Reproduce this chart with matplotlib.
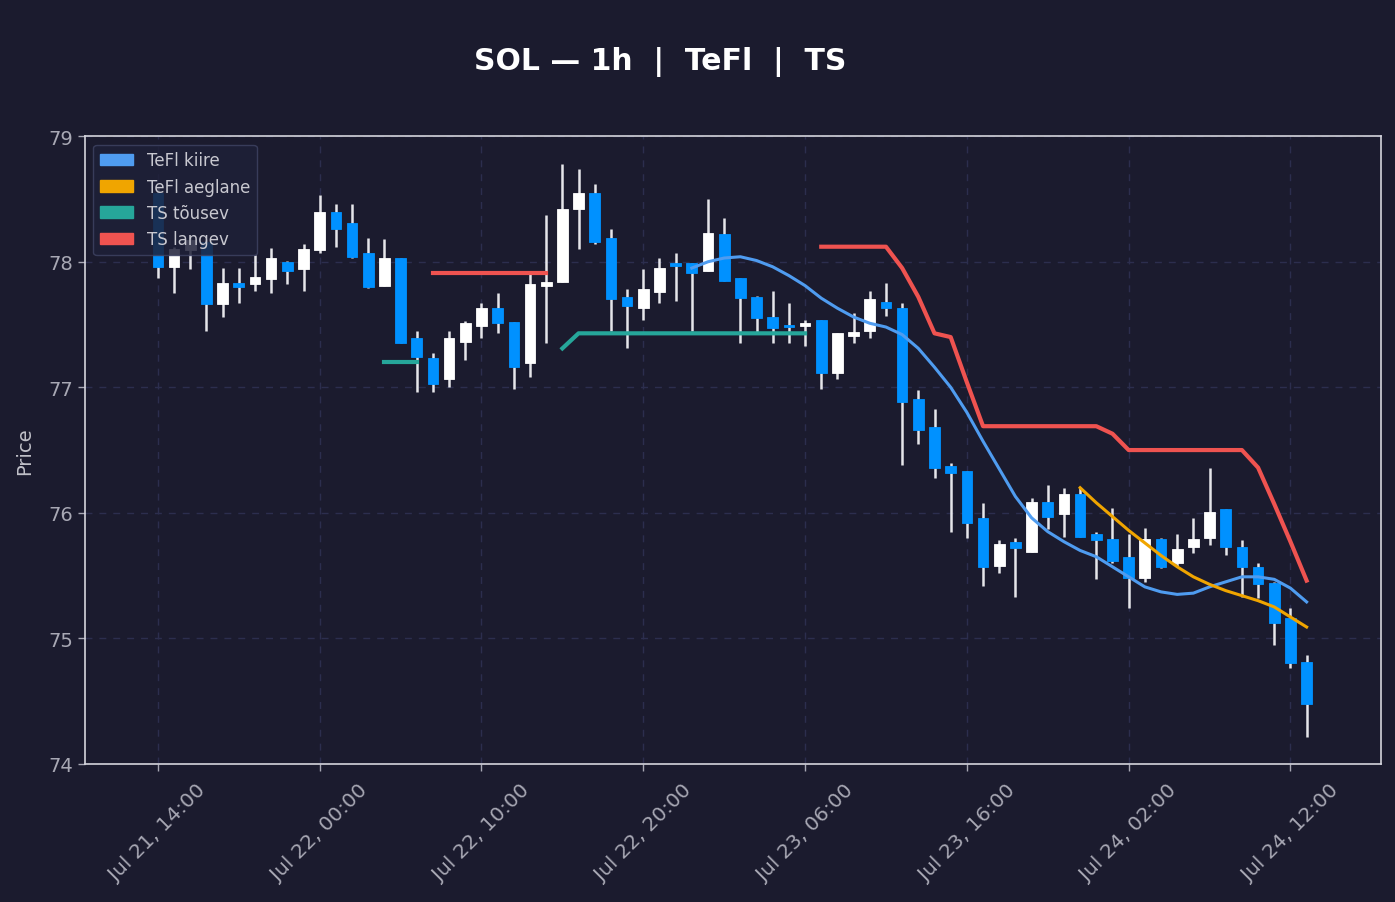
import numpy as np
import pandas as pd
import matplotlib
matplotlib.use("Agg")
import matplotlib.pyplot as plt
import matplotlib.dates as mdates
from matplotlib.patches import Patch

# hourly candles, Jul 21 14:00 -> Jul 24 13:00
times = pd.date_range("2024-07-21 14:00", periods=72, freq="h")

opens = [78.55, 77.96, 78.09, 78.16, 77.66, 77.83, 77.82, 77.86, 78.00, 77.94,
         78.09, 78.40, 78.31, 78.07, 77.81, 78.03, 77.39, 77.23, 77.07, 77.36,
         77.49, 77.63, 77.52, 77.19, 77.81, 77.84, 78.42, 78.55, 78.19, 77.72,
         77.63, 77.76, 77.99, 77.99, 77.93, 78.22, 77.87, 77.72, 77.56, 77.50,
         77.49, 77.54, 77.11, 77.41, 77.45, 77.68, 77.63, 76.91, 76.68, 76.37,
         76.33, 75.96, 75.58, 75.77, 75.69, 76.09, 75.99, 76.15, 75.83, 75.79,
         75.65, 75.48, 75.79, 75.60, 75.73, 75.80, 76.03, 75.73, 75.57, 75.44,
         75.16, 74.81]
closes = [77.96, 78.10, 78.17, 77.66, 77.83, 77.80, 77.88, 78.03, 77.93, 78.10,
          78.40, 78.26, 78.04, 77.80, 78.03, 77.35, 77.24, 77.03, 77.39, 77.51,
          77.63, 77.51, 77.16, 77.82, 77.84, 78.42, 78.55, 78.16, 77.70, 77.65,
          77.78, 77.95, 77.97, 77.91, 78.23, 77.85, 77.71, 77.55, 77.47, 77.48,
          77.51, 77.11, 77.43, 77.44, 77.70, 77.63, 76.88, 76.66, 76.36, 76.32,
          75.92, 75.57, 75.75, 75.72, 76.09, 75.97, 76.15, 75.81, 75.78, 75.62,
          75.48, 75.79, 75.57, 75.71, 75.79, 76.01, 75.73, 75.57, 75.43, 75.12,
          74.80, 74.48]
highs = [78.60, 78.12, 78.20, 78.18, 77.95, 77.95, 78.05, 78.11, 78.01, 78.14,
         78.53, 78.46, 78.46, 78.19, 78.18, 78.03, 77.45, 77.27, 77.45, 77.53,
         77.67, 77.75, 77.52, 77.90, 78.37, 78.78, 78.74, 78.62, 78.26, 77.78,
         77.94, 78.03, 78.07, 77.99, 78.50, 78.35, 77.87, 77.73, 77.77, 77.67,
         77.54, 77.54, 77.43, 77.59, 77.77, 77.83, 77.67, 76.98, 76.83, 76.40,
         76.33, 76.08, 75.78, 75.80, 76.12, 76.22, 76.20, 76.20, 75.85, 76.04,
         75.83, 75.88, 75.80, 75.83, 75.96, 76.36, 76.03, 75.78, 75.60, 75.45,
         75.24, 74.87]
lows = [77.87, 77.75, 77.94, 77.45, 77.56, 77.67, 77.77, 77.75, 77.82, 77.77,
        78.07, 78.12, 78.03, 77.79, 77.81, 77.35, 76.96, 76.96, 77.00, 77.22,
        77.39, 77.43, 76.99, 77.08, 77.35, 77.84, 78.10, 78.14, 77.45, 77.31,
        77.54, 77.67, 77.69, 77.45, 77.93, 77.85, 77.35, 77.44, 77.35, 77.35,
        77.33, 76.99, 77.07, 77.35, 77.39, 77.57, 76.38, 76.55, 76.28, 75.85,
        75.80, 75.42, 75.52, 75.33, 75.69, 75.87, 75.81, 75.81, 75.47, 75.60,
        75.24, 75.45, 75.56, 75.57, 75.68, 75.74, 75.66, 75.33, 75.32, 74.95,
        74.76, 74.21]

# TeFl kiire from candle 33, TeFl aeglane from candle 57
tefl_fast = [77.95, 78.00, 78.03, 78.04, 78.01, 77.96, 77.89, 77.81, 77.71, 77.63,
             77.56, 77.51, 77.48, 77.42, 77.31, 77.16, 77.00, 76.80, 76.57, 76.35,
             76.13, 75.96, 75.85, 75.77, 75.70, 75.65, 75.57, 75.49, 75.41, 75.37,
             75.35, 75.36, 75.41, 75.45, 75.49, 75.49, 75.47, 75.40, 75.29]
tefl_slow = [76.20, 76.08, 75.97, 75.86, 75.76, 75.66, 75.57, 75.49, 75.43, 75.38,
             75.34, 75.30, 75.25, 75.17, 75.09]

# trailing stop segments: (start candle, values)
ts_up = [(14, [77.20, 77.20, 77.20]),
         (25, [77.31] + [77.43] * 15)]
ts_down = [(17, [77.91] * 8),
           (41, [78.12, 78.12, 78.12, 78.12, 78.12, 77.95, 77.72, 77.43, 77.40, 77.04,
                 76.69, 76.69, 76.69, 76.69, 76.69, 76.69, 76.69, 76.69, 76.63, 76.50,
                 76.50, 76.50, 76.50, 76.50, 76.50, 76.50, 76.50, 76.36, 76.07, 75.77,
                 75.46])]

BG = "#1b1b2e"
UP = "#ffffff"
DOWN = "#0091ff"
C_FAST = "#4f9cf0"
C_SLOW = "#f0a500"
C_UP = "#26a69a"
C_DOWN = "#ef5350"

fig = plt.figure(figsize=(13.95, 9.03), dpi=100, facecolor=BG)
ax = fig.add_axes([0.061, 0.153, 0.929, 0.695], facecolor=BG)

x = mdates.date2num(times.to_pydatetime())
hour = 1 / 24
o = np.array(opens)
c = np.array(closes)
up = c >= o
cols = np.where(up, UP, DOWN)

ax.vlines(x, lows, highs, color="#e6e6ea", linewidth=1.8, zorder=2)
ax.bar(x, np.maximum(np.abs(c - o), 0.02), bottom=np.minimum(o, c),
       width=0.66 * hour, color=cols, edgecolor=cols, linewidth=0.6, zorder=3)

ax.plot(x[33:33 + len(tefl_fast)], tefl_fast, color=C_FAST, lw=2.2, zorder=4)
ax.plot(x[57:57 + len(tefl_slow)], tefl_slow, color=C_SLOW, lw=2.2, zorder=4)
for s, vals in ts_up:
    ax.plot(x[s:s + len(vals)], vals, color=C_UP, lw=3, zorder=4)
for s, vals in ts_down:
    ax.plot(x[s:s + len(vals)], vals, color=C_DOWN, lw=3, zorder=4)

ax.set_ylim(74, 79)
ax.set_xlim(x[0] - 4.5 * hour, x[-1] + 4.6 * hour)
ax.set_yticks([74, 75, 76, 77, 78, 79])
ax.xaxis.set_major_locator(plt.FixedLocator(x[::10]))
ax.xaxis.set_major_formatter(mdates.DateFormatter("%b %d, %H:%M"))
plt.setp(ax.get_xticklabels(), rotation=45)

ax.grid(True, color="#2c2e4e", linestyle=(0, (5, 5)), linewidth=1)
ax.set_axisbelow(True)
for sp in ax.spines.values():
    sp.set_color("#d4d4dc")
    sp.set_linewidth(1.2)
ax.tick_params(colors="#a8a8b4", labelsize=14, length=5, width=1)
ax.tick_params(axis="x", pad=7, labelsize=14.5)
ax.set_ylabel("Price", color="#c0c0c8", fontsize=14, labelpad=10)

fig.text(0.473, 0.931, "SOL — 1h  |  TeFl  |  TS", color="white",
         fontsize=21.5, fontweight="bold", ha="center", va="center")

handles = [Patch(color=C_FAST, label="TeFl kiire"),
           Patch(color=C_SLOW, label="TeFl aeglane"),
           Patch(color=C_UP, label="TS tõusev"),
           Patch(color=C_DOWN, label="TS langev")]
leg = ax.legend(handles=handles, loc="upper left", fontsize=12,
                facecolor="#1e2038", edgecolor="#3e4262", framealpha=0.85,
                labelcolor="#c8c8d0", borderaxespad=0.5)

fig.savefig("out.png", dpi=100, facecolor=BG)
